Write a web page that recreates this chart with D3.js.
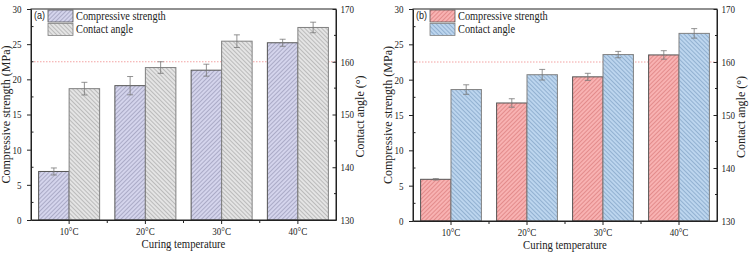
<!DOCTYPE html>
<html><head><meta charset="utf-8">
<script src="https://cdn.jsdelivr.net/npm/d3@7/dist/d3.min.js"></script>
<style>body{margin:0;background:#fff}svg{display:block}</style>
</head><body><svg id="c" width="753" height="253" font-family="Liberation Serif, serif"></svg>
<script>
const categories = ["10°C","20°C","30°C","40°C"];
const strengthA = [6.9, 19.1, 21.3, 25.2];
const strengthAErr = [0.5, 1.3, 0.85, 0.5];
const angleA = [154.9, 158.9, 163.9, 166.5];
const angleAErr = [1.2, 1.1, 1.2, 1.0];
const strengthB = [5.9, 16.7, 20.4, 23.5];
const strengthBErr = [0.1, 0.6, 0.5, 0.6];
const angleB = [154.8, 157.6, 161.4, 165.4];
const angleBErr = [0.9, 1.0, 0.6, 0.9];
const threshold = 160;
const leftTicks = [0,5,10,15,20,25,30];
const rightTicks = [130,140,150,160,170];
const seriesNames = ["Compressive strength","Contact angle"];
const SERIF = "Liberation Serif, serif";
const SX = 0.86; // horizontal squeeze of the original figure's lettering

const svg = d3.select("#c");
const defs = svg.append("defs");
function pat(id, bg, fg, dir){
  const p = defs.append("pattern").attr("id",id).attr("patternUnits","userSpaceOnUse")
    .attr("width",3).attr("height",3).attr("patternTransform","rotate("+(dir>0?45:-45)+")");
  p.append("rect").attr("width",3).attr("height",3).attr("fill",bg);
  p.append("line").attr("x1",0).attr("y1",0).attr("x2",0).attr("y2",3).attr("stroke",fg).attr("stroke-width",0.9);
}
pat("pA1","#d4d4ec","#7a7a98",1);
pat("pA2","#e4e4e4","#8a8a8a",-1);
pat("pB1","#f8b2b2","#c95c5c",1);
pat("pB2","#bcd5ee","#5f86ad",-1);

function squeeze(sel){
  sel.each(function(){
    const t = d3.select(this);
    const x = +t.attr("x") || 0;
    t.attr("x", x/SX).attr("transform","scale("+SX+",1)");
  });
}
function styleAxis(a){
  a.attr("font-family",SERIF);
  a.select(".domain").attr("stroke","#222");
  a.selectAll("line").attr("stroke","#222");
  a.selectAll("text").attr("font-family",SERIF).attr("font-size","10.5px").attr("fill","#222");
  squeeze(a.selectAll("text"));
}
function htext(g, x, y, str, size, anchor, family){
  return g.append("text").attr("transform","translate("+x+","+y+") scale("+SX+",1)")
    .attr("text-anchor",anchor||"start").attr("font-family",family||SERIF)
    .attr("font-size",size).attr("fill","#222").text(str);
}

function panel(o){
  const g = svg.append("g");
  const x = d3.scaleBand().domain(categories).range([o.x0,o.x1]).padding(0);
  const sub = d3.scaleBand().domain([0,1]).range([x.bandwidth()*0.1, x.bandwidth()*0.9]).padding(0);
  const yL = d3.scaleLinear().domain([0,30]).range([o.y1,o.y0]);
  const yR = d3.scaleLinear().domain([130,170]).range([o.y1,o.y0]);
  g.append("line").attr("x1",o.x0).attr("x2",o.x1).attr("y1",yR(threshold)).attr("y2",yR(threshold))
    .attr("stroke","#f08c8c").attr("stroke-width",0.8).attr("stroke-dasharray","1.5,1.5");
  const data = categories.map((c,i)=>({c, s:o.s[i], se:o.se[i], a:o.a[i], ae:o.ae[i]}));
  g.selectAll(".b1").data(data).join("rect")
    .attr("x",d=>x(d.c)+sub(0)).attr("width",sub.bandwidth())
    .attr("y",d=>yL(d.s)).attr("height",d=>yL(0)-yL(d.s))
    .attr("fill","url(#"+o.p1+")").attr("stroke",o.st1).attr("stroke-width",1);
  g.selectAll(".b2").data(data).join("rect")
    .attr("x",d=>x(d.c)+sub(1)).attr("width",sub.bandwidth())
    .attr("y",d=>yR(d.a)).attr("height",d=>yR(130)-yR(d.a))
    .attr("fill","url(#"+o.p2+")").attr("stroke",o.st2).attr("stroke-width",1);
  function err(vals, cx, y){
    const eg = g.append("g").attr("stroke","#777").attr("stroke-width",0.8);
    vals.forEach(d=>{
      const xc = cx(d);
      eg.append("line").attr("x1",xc).attr("x2",xc).attr("y1",y(d.v-d.e)).attr("y2",y(d.v+d.e));
      eg.append("line").attr("x1",xc-3).attr("x2",xc+3).attr("y1",y(d.v+d.e)).attr("y2",y(d.v+d.e));
      eg.append("line").attr("x1",xc-3).attr("x2",xc+3).attr("y1",y(d.v-d.e)).attr("y2",y(d.v-d.e));
    });
  }
  err(data.map(d=>({c:d.c,v:d.s,e:d.se})), d=>x(d.c)+sub(0)+sub.bandwidth()/2, yL);
  err(data.map(d=>({c:d.c,v:d.a,e:d.ae})), d=>x(d.c)+sub(1)+sub.bandwidth()/2, yR);
  g.append("rect").attr("x",o.x0).attr("y",o.y0).attr("width",o.x1-o.x0).attr("height",o.y1-o.y0)
    .attr("fill","none").attr("stroke","#222").attr("stroke-width",1);
  const la = g.append("g").attr("transform","translate("+o.x0+",0)")
    .call(d3.axisLeft(yL).tickValues(leftTicks).tickSizeInner(4).tickSizeOuter(0).tickPadding(5.5));
  styleAxis(la);
  const lm = g.append("g").attr("stroke","#222");
  d3.range(2.5,30,5).forEach(v=>lm.append("line").attr("x1",o.x0).attr("x2",o.x0+2.5).attr("y1",yL(v)).attr("y2",yL(v)));
  const ra = g.append("g").attr("transform","translate("+o.x1+",0)")
    .call(d3.axisRight(yR).tickValues(rightTicks).tickSizeInner(-3.5).tickSizeOuter(0).tickPadding(4.5));
  styleAxis(ra);
  const rm = g.append("g").attr("stroke","#222");
  d3.range(135,170,10).forEach(v=>rm.append("line").attr("x1",o.x1).attr("x2",o.x1-2).attr("y1",yR(v)).attr("y2",yR(v)));
  const ba = g.append("g").attr("transform","translate(0,"+o.y1+")")
    .call(d3.axisBottom(x).tickSizeInner(4).tickSizeOuter(0).tickPadding(4));
  styleAxis(ba);
  const bm = g.append("g").attr("stroke","#222");
  categories.slice(1).forEach(c=>bm.append("line").attr("x1",x(c)).attr("x2",x(c)).attr("y1",o.y1).attr("y2",o.y1+3));
  g.append("text").attr("transform","translate("+(o.x0-21)+","+((o.y0+o.y1)/2)+") rotate(-90)")
    .attr("text-anchor","middle").attr("font-family",SERIF).attr("font-size","12px").attr("fill","#222").text("Compressive strength (MPa)");
  g.append("text").attr("transform","translate("+(o.x1+28)+","+((o.y0+o.y1)/2+2)+") rotate(-90)")
    .attr("text-anchor","middle").attr("font-family",SERIF).attr("font-size","12px").attr("fill","#222").text("Contact angle (°)");
  htext(g,(o.x0+o.x1)/2,o.y1+27.5,"Curing temperature","12.5px","middle");
  htext(g,o.x0+3,o.y0+9.5,o.label,"10.5px","start","Liberation Sans, sans-serif");
  [o.p1,o.p2].forEach((p,i)=>{
    g.append("rect").attr("x",o.x0+17).attr("y",o.y0+1+i*13.4).attr("width",25).attr("height",12)
      .attr("fill","url(#"+p+")").attr("stroke",i?o.st2:o.st1).attr("stroke-width",0.8);
    htext(g,o.x0+45,o.y0+11+i*13.4,seriesNames[i],"12px","start");
  });
}
panel({x0:31,x1:336,y0:9,y1:220,s:strengthA,se:strengthAErr,a:angleA,ae:angleAErr,p1:"pA1",p2:"pA2",st1:"#555",st2:"#808080",label:"(a)"});
panel({x0:413,x1:717,y0:9,y1:221,s:strengthB,se:strengthBErr,a:angleB,ae:angleBErr,p1:"pB1",p2:"pB2",st1:"#555",st2:"#808080",label:"(b)"});
</script></body></html>
